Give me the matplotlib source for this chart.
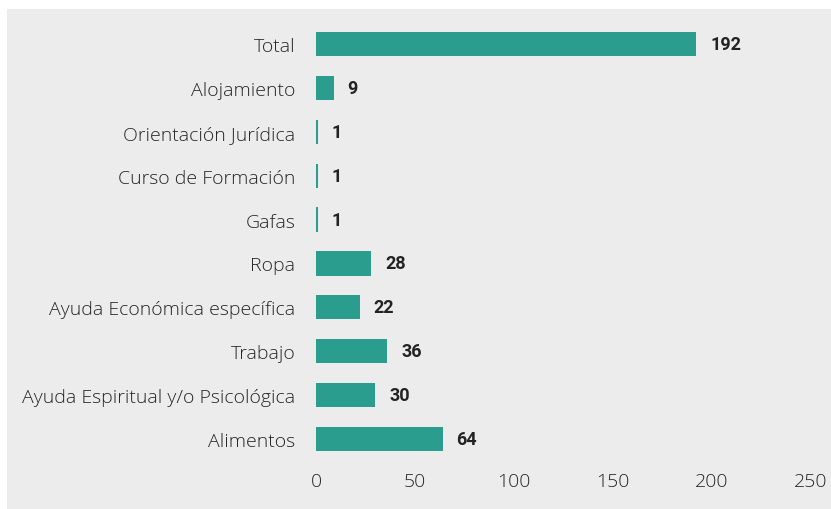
import matplotlib.pyplot as plt
from matplotlib.patches import Rectangle

categories = ['Total', 'Alojamiento', 'Orientación Jurídica', 'Curso de Formación',
              'Gafas', 'Ropa', 'Ayuda Económica específica', 'Trabajo',
              'Ayuda Espiritual y/o Psicológica', 'Alimentos']
values = [192, 9, 1, 1, 1, 28, 22, 36, 30, 64]
xticks = [0, 50, 100, 150, 200, 250]

bar_color = '#2a9d8f'
bg = '#ececec'

plt.rcParams['font.family'] = ['Open Sans', 'DejaVu Sans']

fig = plt.figure(figsize=(8.31, 5.10), dpi=100, facecolor='white')
# fondo gris del panel
fig.patches.append(Rectangle((7 / 831, 0), 1, 1 - 10 / 510, transform=fig.transFigure,
                             facecolor=bg, edgecolor='none', zorder=-10))

ax = fig.add_axes([316 / 831, 1 - 462 / 510, (811 - 316) / 831, (462 - 23) / 510])
ax.set_zorder(5)
ax.patch.set_alpha(0)

y = range(len(categories))
ax.barh(y, values, height=0.55, color=bar_color)
ax.set_ylim(-0.5, len(categories) - 0.5)
ax.invert_yaxis()
ax.set_xlim(0, 250)
ax.set_yticks(list(y))
ax.set_yticklabels(categories, fontsize=14, color='#262626', fontweight='light')
ax.set_xticks(xticks)
ax.set_xticklabels([str(t) for t in xticks], fontsize=14, color='#262626', fontweight='light')
ax.tick_params(length=0)
ax.tick_params(axis='y', pad=15)
ax.tick_params(axis='x', pad=8)
for s in ax.spines.values():
    s.set_visible(False)

for i, v in enumerate(values):
    ax.annotate(str(v), (v, i), xytext=(10, 0), textcoords='offset points',
                va='center', ha='left', fontsize=13, fontweight='bold',
                family=['Roboto', 'DejaVu Sans'], color='#222222')

fig.savefig('out.png', dpi=100, facecolor='white')
